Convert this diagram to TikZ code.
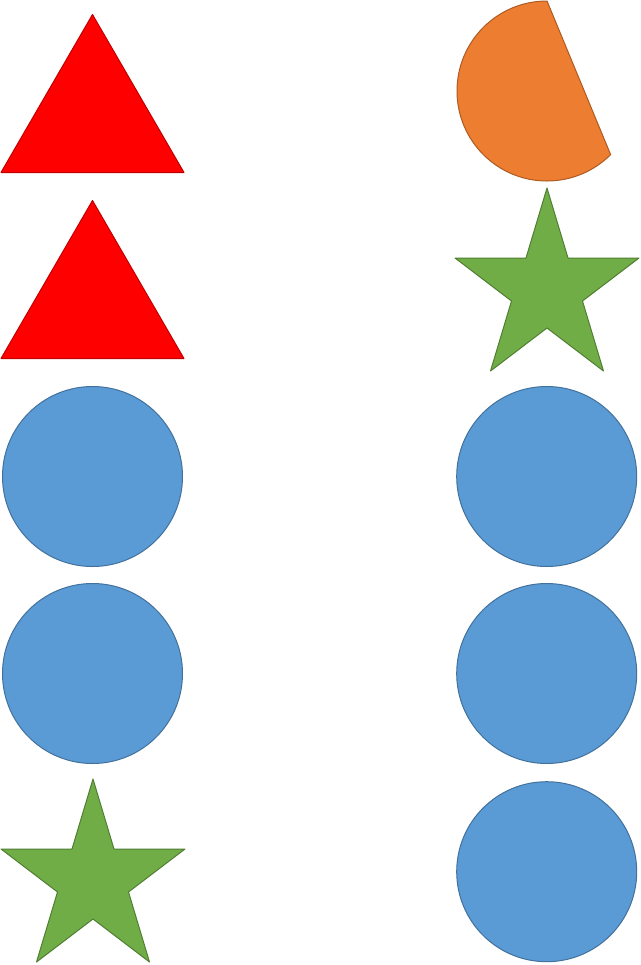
\documentclass[tikz,border=0pt]{standalone}
\usepackage{tikz}
\definecolor{dotam}{HTML}{FF0000}
\definecolor{vientam}{HTML}{C00000}
\definecolor{xanhtron}{HTML}{5B9BD5}
\definecolor{vientron}{HTML}{41719C}
\definecolor{xanhsao}{HTML}{70AD47}
\definecolor{vientsao}{HTML}{507E32}
\definecolor{camcung}{HTML}{ED7D31}
\definecolor{vientcung}{HTML}{AE5A21}
\begin{document}
\begin{tikzpicture}[x=0.75pt,y=-0.75pt,line join=round,line width=0.75pt,
	tamgiac/.style={fill=dotam,draw=vientam},
	hinhtron/.style={fill=xanhtron,draw=vientron},
	ngoisao/.style={fill=xanhsao,draw=vientsao},
	cungtron/.style={fill=camcung,draw=vientcung}]
				\useasboundingbox (0,0) rectangle (640,965);
				\def\r{90}
				%Vẽ các tam giác
				\foreach \y in {0,186}
				\draw[tamgiac,shift={(0,\y)}] (92.5,14.5)--(184,172.5)--(1,172.5)--cycle;
				%Vẽ các hình tròn
				\foreach \x/\y in {92.5/476.5, 92.5/673.5, 546.7/476.5, 546.7/673.5, 546.7/871.7}
				\draw[hinhtron] (\x,\y) circle (\r);
				%Vẽ các ngôi sao
				\foreach \x/\y in {1/779, 455/188}
				\draw[ngoisao,shift={(\x,\y)}] (92,0)--(113,70)--(184,70)--(127.5,113)--(148.5,183)
					--(92,140)--(35.5,183)--(56.5,113)--(0,70)--(71,70)--cycle;
				%Vẽ hình cung tròn
				\draw[cungtron] (547,91) ++(-90:\r) arc[start angle=-90,end angle=-315,radius=\r] --cycle;
			\end{tikzpicture}
\end{document}
